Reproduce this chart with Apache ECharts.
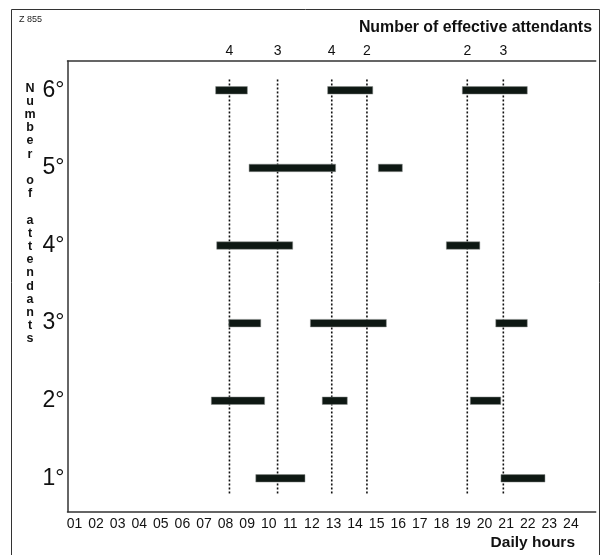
<!DOCTYPE html>
<html>
<head>
<meta charset="utf-8">
<script src="https://cdn.jsdelivr.net/npm/echarts@6/dist/echarts.min.js"></script>
<style>
  html, body { margin: 0; padding: 0; background: #ffffff; }
  #chart { width: 601px; height: 555px; }
</style>
</head>
<body>
<div id="chart"></div>
<script>
// ---- Data ----
// attendant levels (y categories)
const levels = [1, 2, 3, 4, 5, 6];
// hour tick labels
const hourTicks = ['01','02','03','04','05','06','07','08','09','10','11','12',
                   '13','14','15','16','17','18','19','20','21','22','23','24'];
// working intervals for each level: [start, end] in hour-axis units
const level1 = [[9.40, 11.68], [20.76, 22.80]];
const level2 = [[7.34, 9.81], [12.48, 13.64], [19.34, 20.75]];
const level3 = [[8.15, 9.63], [11.93, 15.45], [20.52, 21.98]];
const level4 = [[7.59, 11.11], [18.23, 19.78]];
const level5 = [[9.09, 13.10], [15.08, 16.19]];
const level6 = [[7.54, 9.01], [12.73, 14.82], [18.97, 21.98]];
// dotted reference lines and effective attendants count at those times
const dashedHours = [8.18, 10.41, 12.92, 14.55, 19.20, 20.87];
const effectiveAttendants = [4, 3, 4, 2, 2, 3];

// ---- Build series data ----
const intervalsByLevel = [level1, level2, level3, level4, level5, level6];
const barData = [];
intervalsByLevel.forEach(function (arr, i) {
  arr.forEach(function (iv) { barData.push([levels[i], iv[0], iv[1]]); });
});
const lineData = dashedHours.map(function (h, i) { return [h, effectiveAttendants[i]]; });

const FONT = '"Liberation Sans", Arial, Helvetica, sans-serif';
const hourValues = hourTicks.map(function (t) { return parseInt(t, 10); });

const chart = echarts.init(document.getElementById('chart'), null, { renderer: 'canvas' });

const option = {
  animation: false,
  backgroundColor: '#ffffff',
  grid: { left: 67.5, right: 5.3, top: 61, bottom: 43.3 },
  xAxis: [
    {
      type: 'value', min: 0.676, max: 25.15, position: 'bottom',
      axisLine: { show: true, lineStyle: { color: '#333', width: 1.5 } },
      axisTick: { show: false },
      splitLine: { show: false },
      axisLabel: {
        customValues: hourValues,
        formatter: function (v) { return (v < 10 ? '0' : '') + v; },
        fontFamily: FONT, fontSize: 14, color: '#111', margin: 5
      }
    },
    {
      type: 'value', min: 0.676, max: 25.15, position: 'top',
      axisLine: { show: true, lineStyle: { color: '#333', width: 1.5 } },
      axisTick: { show: false },
      splitLine: { show: false },
      axisLabel: { show: false }
    }
  ],
  yAxis: {
    type: 'value', min: 0.57, max: 6.378,
    axisLine: { show: true, lineStyle: { color: '#333', width: 1.5 } },
    axisTick: { show: false },
    splitLine: { show: false },
    axisLabel: {
      customValues: levels,
      formatter: function (v) { return v + '°'; },
      fontFamily: FONT, fontSize: 23, color: '#111', margin: 3
    }
  },
  series: [
    {
      type: 'custom',
      clip: false,
      data: lineData,
      encode: { x: 0 },
      renderItem: function (params, api) {
        const h = api.value(0);
        const top = api.coord([h, 6.14]);
        const bot = api.coord([h, 0.78]);
        const lab = api.coord([h, 6.51]);
        return {
          type: 'group',
          children: [
            {
              type: 'line',
              shape: { x1: top[0], y1: top[1], x2: bot[0], y2: bot[1] },
              style: { stroke: '#111', lineWidth: 1.6, lineDash: [2, 2] }
            },
            {
              type: 'text',
              style: {
                text: String(api.value(1)),
                x: lab[0], y: lab[1],
                textAlign: 'center', textVerticalAlign: 'middle',
                fontFamily: FONT, fontSize: 14, fill: '#111'
              }
            }
          ]
        };
      }
    },
    {
      type: 'custom',
      clip: false,
      data: barData,
      encode: { x: [1, 2], y: 0 },
      renderItem: function (params, api) {
        const lv = api.value(0);
        const s = api.coord([api.value(1), lv]);
        const e = api.coord([api.value(2), lv]);
        const h = 7.5;
        return {
          type: 'rect',
          shape: { x: s[0], y: s[1] - h / 2, width: e[0] - s[0], height: h },
          style: { fill: '#0e1813', stroke: '#8a8f8c', lineWidth: 0.5 }
        };
      }
    }
  ],
  graphic: [
    {
      type: 'rect', silent: true,
      shape: { x: 11.5, y: 9.5, width: 588, height: 560 },
      style: { fill: 'none', stroke: '#333', lineWidth: 1 }
    },
    {
      type: 'text', left: 19, top: 15,
      style: { text: 'Z 855', fontFamily: FONT, fontSize: 9, fill: '#222' }
    },
    {
      type: 'text',
      style: {
        text: 'Number of effective attendants', x: 592, y: 27.5,
        textAlign: 'right', textVerticalAlign: 'middle',
        fontFamily: FONT, fontSize: 15.9, fontWeight: 'bold', fill: '#111'
      }
    },
    {
      type: 'text',
      style: {
        text: 'Daily hours', x: 575, y: 543,
        textAlign: 'right', textVerticalAlign: 'middle',
        fontFamily: FONT, fontSize: 15.5, fontWeight: 'bold', fill: '#111'
      }
    },
    {
      type: 'text',
      style: {
        text: 'Number of attendants'.split('').join('\n'),
        x: 30, y: 81.5,
        textAlign: 'center', textVerticalAlign: 'top',
        lineHeight: 13.2,
        fontFamily: FONT, fontSize: 12.5, fontWeight: 'bold', fill: '#111'
      }
    }
  ]
};

chart.setOption(option);
</script>
</body>
</html>
